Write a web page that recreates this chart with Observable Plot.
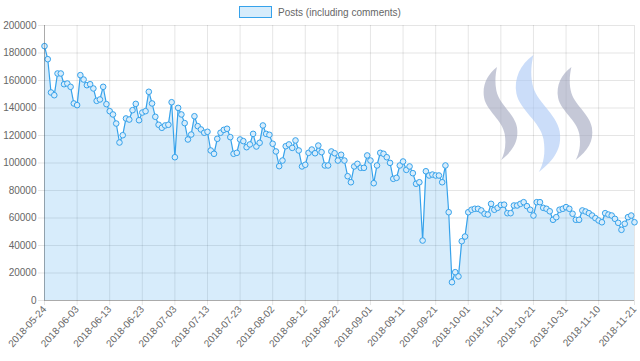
<!DOCTYPE html>
<html>
<head>
<meta charset="utf-8">
<script src="https://cdn.jsdelivr.net/npm/d3@7"></script>
<script src="https://cdn.jsdelivr.net/npm/@observablehq/plot@0.6"></script>
<style>
  html, body { margin: 0; padding: 0; background: #fff; }
  #wrap { position: relative; width: 640px; height: 361px; overflow: hidden; font-family: "Liberation Sans", Arial, sans-serif; }
  #legend { position: absolute; left: 0; top: 4px; width: 640px; height: 16px; display: flex; justify-content: center; align-items: center; color: #666; font-size: 10px; }
  #legend .box { width: 31px; height: 10px; background: rgba(54,162,235,0.2); border: 1px solid #36a2eb; margin-right: 6px; }
  #logo { position: absolute; left: 0; top: 0; pointer-events: none; }
</style>
</head>
<body>
<div id="wrap">
  <div id="chart"></div>
  <div id="legend"><span class="box"></span><span>Posts (including comments)</span></div>
</div>
<script>
const seriesName = "Posts (including comments)";
const startDate = "2018-05-24";
const tickLabels = ["2018-05-24","2018-06-03","2018-06-13","2018-06-23","2018-07-03","2018-07-13","2018-07-23","2018-08-02","2018-08-12","2018-08-22","2018-09-01","2018-09-11","2018-09-21","2018-10-01","2018-10-11","2018-10-21","2018-10-31","2018-11-10","2018-11-21"];
const yTicks = [0,20000,40000,60000,80000,100000,120000,140000,160000,180000,200000];
const posts = [
185000,175500,151300,149300,165100,165100,157300,157800,155400,143300,
142100,163900,160700,156600,157300,154200,145200,146200,155400,142800,
137700,135300,128700,114900,120200,132400,131600,138400,143000,131100,
136700,137700,151800,143300,133600,127800,125600,127300,127800,144200,
104200,140100,135300,129000,117100,120700,134000,126800,124400,122000,
122700,109100,106700,117600,122000,124100,124900,118800,106700,107400,
117100,115900,111500,113500,121200,112000,114700,127300,121200,120500,
114000,108400,97700,101800,112200,113500,111000,116400,109100,97500,
98700,107400,109800,107100,112700,107900,98200,98200,108400,107100,
101800,106000,101800,90400,86000,97500,99400,96500,96500,105500,
101800,85300,98200,107400,106700,104200,100100,88500,89200,98200,
101100,95000,97500,92600,84900,86000,43600,94000,90900,91600,
90900,90900,86000,98200,64200,13300,20600,17500,43100,46500,
64200,66000,66700,66700,65500,63100,62500,70300,66000,67400,
69500,69700,63500,63500,69100,69100,70300,71500,68600,66000,
61800,71500,71500,67400,66700,64900,58700,60600,66000,66700,
67900,66700,63100,58700,58700,65500,64700,63500,61800,59900,
58200,56900,63500,62500,61800,59400,56500,51400,55800,60600,
61800,56900
];

const parse = d3.utcParse("%Y-%m-%d");
const start = parse(startDate);
const data = posts.map((v, i) => ({date: d3.utcDay.offset(start, i), value: v}));
const tickDates = tickLabels.map(parse);
const fmt = d3.utcFormat("%Y-%m-%d");

const chart = Plot.plot({
  width: 640,
  height: 361,
  marginTop: 25,
  marginLeft: 44,
  marginRight: 6,
  marginBottom: 61,
  style: {fontFamily: "'Liberation Sans', Arial, sans-serif", fontSize: "10px", color: "#666", background: "transparent"},
  x: {type: "utc", domain: [data[0].date, data[data.length - 1].date]},
  y: {domain: [0, 200000]},
  marks: [
    Plot.gridX(tickDates, {stroke: "#000", strokeOpacity: 0.1}),
    Plot.gridY(yTicks, {stroke: "#000", strokeOpacity: 0.1}),
    Plot.areaY(data, {x: "date", y: "value", fill: "#36a2eb", fillOpacity: 0.2}),
    Plot.lineY(data, {x: "date", y: "value", stroke: "#36a2eb", strokeWidth: 1.2}),
    Plot.dot(data, {x: "date", y: "value", r: 2.8, stroke: "#36a2eb", fill: "#d7ecfb", strokeWidth: 1}),
    Plot.ruleY([0], {stroke: "#000", strokeOpacity: 0.25}),
    Plot.ruleX([data[0].date], {stroke: "#000", strokeOpacity: 0.25}),
    Plot.axisY(yTicks, {tickFormat: d => String(d), tickSize: 6, tickPadding: 2, stroke: "#000", strokeOpacity: 0.1, fill: "#666", label: null}),
    Plot.axisX(tickDates, {tickFormat: fmt, tickSize: 5, tickPadding: 2, tickRotate: -48, stroke: "#000", strokeOpacity: 0.1, fill: "#666", label: null})
  ]
});
document.getElementById("chart").appendChild(chart);

// decorative Steem logo watermark
function ribbon(x0, y0, w, h) {
  const pts = [[0.40,0],
    [0.12,0.08],[-0.03,0.20],[0.03,0.33],
    [0.10,0.47],[0.55,0.57],[0.62,0.72],
    [0.67,0.84],[0.62,0.93],[0.52,1.0],
    [0.85,0.90],[1.03,0.80],[0.97,0.65],
    [0.90,0.50],[0.45,0.40],[0.38,0.25],
    [0.33,0.15],[0.36,0.07],[0.40,0]];
  const P = pts.map(([u, v]) => [(x0 + u * w).toFixed(1), (y0 + v * h).toFixed(1)]);
  let d = `M${P[0]}`;
  for (let i = 1; i < P.length; i += 3) d += ` C${P[i]} ${P[i+1]} ${P[i+2]}`;
  return d + "Z";
}
const ns = "http://www.w3.org/2000/svg";
const logo = document.createElementNS(ns, "svg");
logo.setAttribute("id", "logo");
logo.setAttribute("width", 640);
logo.setAttribute("height", 361);
[[483, 67, 35, 93, "#9ea3bd"], [515, 55, 46, 117, "#a9c6f5"], [557, 67, 36, 93, "#9ea3bd"]].forEach(([x, y, w, h, c]) => {
  const p = document.createElementNS(ns, "path");
  p.setAttribute("d", ribbon(x, y, w, h));
  p.setAttribute("fill", c);
  p.setAttribute("fill-opacity", 0.6);
  logo.appendChild(p);
});
document.getElementById("wrap").appendChild(logo);
</script>
</body>
</html>
